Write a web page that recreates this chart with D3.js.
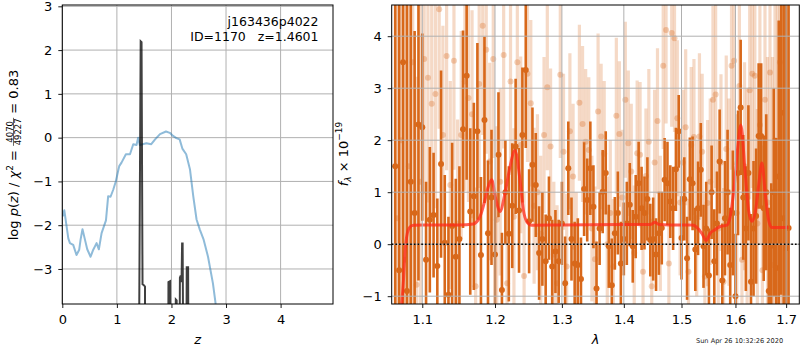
<!DOCTYPE html>
<html>
<head>
<meta charset="utf-8">
<title>redshift fit</title>
<script src="https://d3js.org/d3.v7.min.js"></script>
<style>
	body { margin: 0; background: #fff; }
	text { font-family: "DejaVu Sans", sans-serif; }
</style>
</head>
<body>
<div id="plot"></div>
<script>
// ---- left panel: log p(z) ----
var zTicks = [0, 1, 2, 3, 4]
var pTicks = [-3, -2, -1, 0, 1, 2, 3]

var zChi = [0.006, 0.037, 0.11, 0.14, 0.20, 0.26, 0.31, 0.335, 0.37, 0.415, 0.457, 0.518, 0.567, 0.628, 0.67, 0.72, 0.80, 0.84, 0.884, 0.933, 0.98, 1.043, 1.085, 1.165, 1.24, 1.30, 1.36, 1.39, 1.42, 1.54, 1.63, 1.70, 1.79, 1.90, 1.97, 2.03, 2.09, 2.15, 2.20, 2.27, 2.34, 2.40, 2.46, 2.52, 2.59, 2.67, 2.76, 2.81, 2.86]
var logChi = [-1.80, -1.66, -2.30, -2.41, -2.45, -2.68, -2.56, -2.33, -2.09, -2.33, -2.55, -2.72, -2.56, -2.41, -2.55, -2.18, -1.89, -1.34, -1.35, -1.19, -1.00, -0.65, -0.57, -0.38, -0.38, -0.15, -0.17, 0.00, -0.17, -0.13, -0.15, -0.04, 0.08, 0.14, 0.11, 0.04, -0.01, -0.04, -0.25, -0.38, -0.73, -1.34, -1.87, -2.10, -2.33, -2.72, -3.33, -3.80, -4.2]

var zPz = [1.30, 1.405, 1.436, 1.452, 1.47, 1.495, 1.515, 1.53, 1.93, 1.945, 1.975, 1.99, 2.07, 2.08, 2.095, 2.105, 2.14, 2.155, 2.17, 2.185, 2.195, 2.205, 2.22, 2.27, 2.28, 2.305, 2.32, 2.40]
var logPz = [-12, -5, 2.20, 2.18, -3.35, -3.37, -3.40, -12, -12, -3.30, -3.28, -12, -5, -3.70, -3.72, -5, -8, -3.20, -3.15, -3.30, -2.42, -2.42, -6, -6, -2.96, -2.96, -8, -12]

// ---- right panel: spectrum ----
var lamTicks = [1.1, 1.2, 1.3, 1.4, 1.5, 1.6, 1.7]
var fluxTicks = [-1, 0, 1, 2, 3, 4]

var lamDark = [1.065, 1.070, 1.075, 1.080, 1.085, 1.090, 1.095, 1.100, 1.105, 1.110, 1.115, 1.120, 1.125, 1.130, 1.135, 1.140, 1.145, 1.150, 1.155, 1.160, 1.165, 1.170, 1.175, 1.180, 1.185, 1.190, 1.195, 1.200, 1.205, 1.210, 1.215, 1.220, 1.225, 1.230, 1.235, 1.240, 1.245, 1.250, 1.255, 1.260, 1.265, 1.270, 1.275, 1.280, 1.285, 1.290, 1.295, 1.300, 1.305, 1.310, 1.315, 1.320, 1.325, 1.330, 1.335, 1.340, 1.345, 1.350, 1.355, 1.360, 1.365, 1.370, 1.375, 1.380, 1.385, 1.390, 1.395, 1.400, 1.405, 1.410, 1.415, 1.420, 1.425, 1.430, 1.435, 1.440, 1.445, 1.450, 1.455, 1.460, 1.465, 1.470, 1.475, 1.480, 1.485, 1.490, 1.495, 1.500, 1.505, 1.510, 1.515, 1.520, 1.525, 1.530, 1.535, 1.540, 1.545, 1.550, 1.555, 1.560, 1.565, 1.570, 1.575, 1.580, 1.585, 1.590, 1.595, 1.600, 1.605, 1.610, 1.615, 1.620, 1.625, 1.630, 1.635, 1.640, 1.645, 1.650, 1.655, 1.660, 1.665, 1.670, 1.675, 1.680, 1.685, 1.690, 1.695, 1.700, 1.705]
var fluxDark = [1.5, -0.5, 3.5, -0.9, 1.2, 0.6, 2.3, 2.25, -0.3, 0.47, 0.56, -0.42, 1.54, 0.03, -0.97, 0.35, -0.24, 0.1, 2.21, 3.24, 0.63, 0.92, 2.17, -0.21, 2.39, 0.21, 0.9, -0.2, 1.72, -0.88, 1.0, 0.2, 0.74, 1.88, 0.65, 2.1, 3.35, 0.44, 1.53, 1.14, -0.17, 0.1, -0.33, 0.5, -0.43, -0.14, -0.33, 0.4, -0.75, 1.46, 0.1, -0.37, -0.4, -0.67, 1.06, 0.85, 1.46, 0.72, -0.85, 0.3, 1.01, 1.37, -0.04, -0.79, 0.21, 0.6, -0.37, 0.1, 0.4, 0.76, -0.04, 0.53, 1.17, 0.69, 0.6, 0.87, 0.08, 0.1, -0.2, 0.21, 0.31, 1.24, 1.17, 0.82, 0.69, 1.44, 2.17, 0.12, 0.87, -0.27, 1.25, 1.17, -0.1, 0.69, 1.43, -0.04, 0.3, -0.6, 1.0, -0.33, 0.4, 1.59, -0.7, 0.5, 1.0, -0.4, 0.6, -1.0, 1.37, 2.63, 0.9, 0.3, 1.37, -0.72, 0.3, 0.54, 2.08, 2.08, 0.69, 1.0, -0.9, -0.03, 1.0, -0.46, 1.3, 2.53, 0.5, -0.08, 0.31]
var errDark = [8, 8, 7, 6, 4.5, 3.5, 3.0, 1.8, 1.5, 1.4, 1.2, 1.3, 1.8, 1.3, 1.5, 1.6, 1.5, 1.4, 1.9, 2.0, 1.6, 1.8, 1.7, 1.5, 1.6, 1.4, 1.3, 1.2, 1.2, 1.1, 1.0, 1.3, 1.2, 1.3, 1.2, 1.3, 1.5, 1.0, 1.1, 1.0, 0.9, 0.9, 0.9, 0.8, 0.9, 0.8, 0.8, 0.8, 0.9, 0.9, 0.8, 0.8, 0.9, 0.8, 0.9, 0.8, 0.9, 0.8, 0.9, 0.7, 0.8, 0.8, 0.8, 0.9, 0.7, 0.8, 0.8, 0.7, 0.8, 0.8, 0.7, 0.8, 0.8, 0.8, 0.7, 0.8, 0.7, 0.8, 0.7, 0.8, 0.7, 0.8, 0.8, 0.7, 0.8, 0.8, 0.7, 0.8, 0.8, 0.8, 0.8, 0.9, 0.8, 0.9, 0.9, 0.8, 0.9, 0.9, 0.9, 1.0, 1.0, 1.0, 1.1, 1.1, 1.2, 1.1, 1.2, 1.2, 1.2, 1.3, 1.2, 1.2, 1.3, 1.3, 1.3, 1.3, 1.4, 1.4, 1.4, 1.5, 1.6, 1.2, 2.0, 2.5, 3.0, 3.5, 6, 8, 9]

var lamLight = [1.0675, 1.0725, 1.0775, 1.0825, 1.0875, 1.0925, 1.0975, 1.1025, 1.1075, 1.1125, 1.1175, 1.1225, 1.1275, 1.1325, 1.1375, 1.1425, 1.1475, 1.1525, 1.1575, 1.1625, 1.1675, 1.1725, 1.1775, 1.1825, 1.1875, 1.1925, 1.1975, 1.2025, 1.2075, 1.2125, 1.2175, 1.2225, 1.2275, 1.2325, 1.2375, 1.2425, 1.2475, 1.2525, 1.2575, 1.2625, 1.2675, 1.2725, 1.2775, 1.2825, 1.2875, 1.2925, 1.2975, 1.3025, 1.3075, 1.3125, 1.3175, 1.3225, 1.3275, 1.3325, 1.3375, 1.3425, 1.3475, 1.3525, 1.3575, 1.3625, 1.3675, 1.3725, 1.3775, 1.3825, 1.3875, 1.3925, 1.3975, 1.4025, 1.4075, 1.4125, 1.4175, 1.4225, 1.4275, 1.4325, 1.4375, 1.4425, 1.4475, 1.4525, 1.4575, 1.4625, 1.4675, 1.4725, 1.4775, 1.4825, 1.4875, 1.4925, 1.4975, 1.5025, 1.5075, 1.5125, 1.5175, 1.5225, 1.5275, 1.5325, 1.5375, 1.5425, 1.5475, 1.5525, 1.5575, 1.5625, 1.5675, 1.5725, 1.5775, 1.5825, 1.5875, 1.5925, 1.5975, 1.6025, 1.6075, 1.6125, 1.6175, 1.6225, 1.6275, 1.6325, 1.6375, 1.6425, 1.6475, 1.6525, 1.6575, 1.6625, 1.6675, 1.6725, 1.6775, 1.6825, 1.6875, 1.6925]
var fluxLight = [0.5, 2.0, -0.3, 1.5, 3.5, -0.78, 1.2, 3.56, 3.2, 2.7, 2.89, 4.52, 2.1, 3.62, 1.14, 3.53, 0.4, 2.1, 3.13, 2.81, 2.5, -0.81, 3.08, 4.2, 3.74, 1.59, 3.56, 0.47, 1.2, 3.64, -0.75, 3.13, 0.53, 3.5, 1.91, -0.61, 3.28, 2.71, 0.74, 1.0, 0.2, 2.1, 3.02, 1.88, -0.2, -0.75, 3.26, 1.78, -0.43, 2.17, 1.3, -0.4, 2.72, 2.31, 1.97, 1.81, 0.3, -0.29, 2.55, 2.07, 1.74, 0.0, 0.6, -0.43, 2.47, 2.12, 0.9, 2.78, 1.94, 1.4, -0.17, 1.75, 1.72, -0.53, 1.31, 1.97, -0.81, 1.57, 2.37, 0.4, 3.43, 4.12, -0.37, 4.06, 3.96, 2.42, 0.8, 1.57, 2.25, -0.53, 1.91, 2.06, 0.5, 2.07, 1.78, -0.62, 0.79, 1.2, 2.78, 2.88, 0.3, 1.57, -0.72, 1.83, 1.0, 3.43, 3.53, 0.6, 3.04, -0.3, 1.5, 0.9, 2.96, 3.28, 3.24, 0.4, 2.29, -0.5, 2.78, 0.8, 3.3, -0.4, 2.0, 1.0, 3.5, 0.5]
var errLight = [9, 8, 7, 6, 5, 4, 3.5, 2.6, 2.4, 2.2, 2.2, 2.3, 2.1, 2.2, 2.0, 2.1, 2.0, 2.0, 2.1, 2.0, 2.0, 1.9, 2.0, 2.1, 2.0, 1.9, 1.9, 1.8, 1.8, 1.8, 1.7, 1.8, 1.7, 1.7, 1.7, 1.6, 1.7, 1.6, 1.5, 1.5, 1.5, 1.5, 1.6, 1.5, 1.4, 1.5, 1.6, 1.5, 1.4, 1.5, 1.4, 1.4, 1.5, 1.5, 1.4, 1.4, 1.4, 1.4, 1.5, 1.4, 1.4, 1.3, 1.4, 1.3, 1.5, 1.4, 1.3, 1.5, 1.4, 1.3, 1.3, 1.4, 1.4, 1.3, 1.3, 1.4, 1.3, 1.4, 1.4, 1.3, 1.6, 1.8, 1.4, 1.8, 1.8, 1.5, 1.4, 1.4, 1.5, 1.4, 1.5, 1.5, 1.5, 1.6, 1.5, 1.6, 1.6, 1.6, 1.8, 1.8, 1.7, 1.7, 1.8, 1.8, 1.8, 2.0, 2.0, 1.9, 2.0, 2.0, 2.0, 2.1, 2.1, 2.2, 2.2, 2.2, 2.3, 2.4, 2.6, 2.8, 3.2, 4, 5, 6, 7, 8]

var lamModel = [1.0732, 1.0753, 1.0775, 1.0805, 1.0839, 1.0883, 1.10, 1.15, 1.1693, 1.1786, 1.1857, 1.1904, 1.1952, 1.2014, 1.2072, 1.2144, 1.2217, 1.2290, 1.2364, 1.2414, 1.2463, 1.2538, 1.30, 1.40, 1.445, 1.4532, 1.46, 1.50, 1.5196, 1.5369, 1.5449, 1.5523, 1.5616, 1.5710, 1.5836, 1.5899, 1.5976, 1.6039, 1.6103, 1.6187, 1.6252, 1.6317, 1.6382, 1.6448, 1.6514, 1.6580, 1.6646, 1.6712, 1.705]
var fluxModel = [-1.15, -0.75, -0.17, 0.21, 0.33, 0.365, 0.37, 0.37, 0.39, 0.53, 0.85, 1.11, 1.24, 0.85, 0.63, 0.98, 1.49, 1.80, 1.24, 0.66, 0.44, 0.365, 0.37, 0.38, 0.38, 0.42, 0.38, 0.37, 0.37, 0.21, 0.07, 0.21, 0.28, 0.34, 0.365, 0.53, 1.11, 1.81, 2.29, 1.37, 0.66, 0.44, 0.60, 1.11, 1.56, 0.98, 0.47, 0.32, 0.32]

var fracNum = '4070', fracDen = '49227'
var stamp = 'Sun Apr 26 10:32:26 2020'

// ------------------------------------------------------------------
var svg = d3.select('#plot').append('svg')
				.attr('width', 800)
				.attr('height', 350)

var boxL = {left: 62.3, right: 333, top: 5, bottom: 304}
var boxR = {left: 391.7, right: 799.3, top: 5, bottom: 304}

var defs = svg.append('defs')
function addClip(id, b) {
	defs.append('clipPath').attr('id', id)
		.append('rect')
			.attr('x', b.left).attr('y', b.top)
			.attr('width', b.right - b.left).attr('height', b.bottom - b.top)
}
addClip('clipL', boxL)
addClip('clipR', boxR)

function drawGrid(g, x, y, b, xt, yt) {
	var gg = g.append('g').attr('stroke', '#b0b0b0').attr('stroke-width', 1)
	gg.selectAll('.gx').data(xt).enter().append('line')
		.attr('x1', function(d){return x(d)}).attr('x2', function(d){return x(d)})
		.attr('y1', b.top).attr('y2', b.bottom)
	gg.selectAll('.gy').data(yt).enter().append('line')
		.attr('x1', b.left).attr('x2', b.right)
		.attr('y1', function(d){return y(d)}).attr('y2', function(d){return y(d)})
}

function drawAxes(g, x, y, b, xt, yt, xfmt) {
	var ax = g.append('g')
		.attr('transform', 'translate(0,' + b.bottom + ')')
		.call(d3.axisBottom(x).tickValues(xt).tickSize(4).tickPadding(7).tickFormat(xfmt))
	var ay = g.append('g')
		.attr('transform', 'translate(' + b.left + ',0)')
		.call(d3.axisLeft(y).tickValues(yt).tickSize(4).tickPadding(6).tickFormat(d3.format('d')))
	;[ax, ay].forEach(function(a){
		a.select('.domain').remove()
		a.attr('font-family', null).attr('font-size', 13)
		a.selectAll('line').attr('stroke', '#000').attr('stroke-width', 0.9)
		a.selectAll('text').attr('fill', '#000')
	})
	g.append('rect')
		.attr('x', b.left).attr('y', b.top)
		.attr('width', b.right - b.left).attr('height', b.bottom - b.top)
		.attr('fill', 'none').attr('stroke', '#000').attr('stroke-width', 1)
}

// ---- left panel ----
var xz = d3.scaleLinear().domain([0, 4.96]).range([boxL.left, boxL.right])
var yp = d3.scaleLinear().domain([-3.8, 3.03]).range([boxL.bottom, boxL.top])

var gL = svg.append('g')
drawGrid(gL, xz, yp, boxL, zTicks, pTicks)

var dataL = gL.append('g').attr('clip-path', 'url(#clipL)')
var lineL = d3.line()
	.x(function(d){return xz(d[0])})
	.y(function(d){return yp(d[1])})

dataL.append('path')
	.attr('d', lineL(zChi.map(function(z, i){return [z, logChi[i]]})))
	.attr('fill', 'none').attr('stroke', '#1f77b4').attr('stroke-opacity', 0.5)
	.attr('stroke-width', 2).attr('stroke-linejoin', 'round')

dataL.append('path')
	.attr('d', lineL(zPz.map(function(z, i){return [z, logPz[i]]})))
	.attr('fill', 'none').attr('stroke', '#000').attr('stroke-opacity', 0.75)
	.attr('stroke-width', 2)

drawAxes(gL, xz, yp, boxL, zTicks, pTicks, d3.format('d'))

gL.append('text').attr('x', 318.5).attr('y', 26).attr('text-anchor', 'end')
	.attr('font-size', 12.5).text('j163436p4022')
gL.append('text').attr('x', 318.5).attr('y', 41).attr('text-anchor', 'end')
	.attr('font-size', 12.5).style('white-space', 'pre').text('ID=1170   z=1.4601')

gL.append('text').attr('x', (boxL.left + boxL.right) / 2).attr('y', 344)
	.attr('text-anchor', 'middle').attr('font-size', 13).attr('font-style', 'italic').text('z')

// y label with a stacked fraction
var yl = gL.append('g')
var t1 = yl.append('text').attr('font-size', 13)
t1.append('tspan').text('log ')
t1.append('tspan').attr('font-style', 'italic').text('p')
t1.append('tspan').text('(')
t1.append('tspan').attr('font-style', 'italic').text('z')
t1.append('tspan').text(') / ')
t1.append('tspan').attr('font-style', 'italic').text('χ')
t1.append('tspan').attr('font-size', 9).attr('dy', -5).text('2')
t1.append('tspan').attr('dy', 5).style('white-space', 'pre').text(' = ')
var w1 = t1.node().getComputedTextLength()
var nn = yl.append('text').attr('font-size', 8.5).attr('text-anchor', 'middle').attr('y', -5.3).text(fracNum)
var dd = yl.append('text').attr('font-size', 8.5).attr('text-anchor', 'middle').attr('y', 3.2).text(fracDen)
var fw = Math.max(nn.node().getComputedTextLength(), dd.node().getComputedTextLength()) + 1
nn.attr('x', w1 + fw / 2)
dd.attr('x', w1 + fw / 2)
yl.append('line').attr('x1', w1).attr('x2', w1 + fw).attr('y1', -4.3).attr('y2', -4.3)
	.attr('stroke', '#000').attr('stroke-width', 0.6)
var t2 = yl.append('text').attr('font-size', 13).attr('x', w1 + fw).style('white-space', 'pre').text(' = 0.83')
var wTot = w1 + fw + t2.node().getComputedTextLength()
yl.attr('transform', 'translate(17.8,' + (155 + wTot / 2) + ') rotate(-90)')

// ---- right panel ----
var xl = d3.scaleLog().domain([1.0605, 1.727]).range([boxR.left, boxR.right])
var yf = d3.scaleLinear().domain([-1.15, 4.6]).range([boxR.bottom, boxR.top])

var gR = svg.append('g')
var dataR = gR.append('g').attr('clip-path', 'url(#clipR)')

var orange = '#d8681a'
var light = lamLight.map(function(l, i){return {l: l, f: fluxLight[i], e: errLight[i]}})
var dark = lamDark.map(function(l, i){return {l: l, f: fluxDark[i], e: errDark[i]}})

dataR.append('g').selectAll('line').data(light).enter().append('line')
	.attr('x1', function(d){return xl(d.l)}).attr('x2', function(d){return xl(d.l)})
	.attr('y1', function(d){return yf(d.f - d.e)}).attr('y2', function(d){return yf(d.f + d.e)})
	.attr('stroke', orange).attr('stroke-opacity', 0.25).attr('stroke-width', 3.2)
dataR.append('g').selectAll('circle').data(light).enter().append('circle')
	.attr('cx', function(d){return xl(d.l)}).attr('cy', function(d){return yf(d.f)})
	.attr('r', 3).attr('fill', orange).attr('fill-opacity', 0.3)

dataR.append('g').selectAll('line').data(dark).enter().append('line')
	.attr('x1', function(d){return xl(d.l)}).attr('x2', function(d){return xl(d.l)})
	.attr('y1', function(d){return yf(d.f - d.e)}).attr('y2', function(d){return yf(d.f + d.e)})
	.attr('stroke', orange).attr('stroke-width', 2.6)
dataR.append('g').selectAll('circle').data(dark).enter().append('circle')
	.attr('cx', function(d){return xl(d.l)}).attr('cy', function(d){return yf(d.f)})
	.attr('r', 3).attr('fill', orange)

dataR.append('path')
	.attr('d', d3.line().curve(d3.curveMonotoneX)
		.x(function(d){return xl(d[0])}).y(function(d){return yf(d[1])})
		(lamModel.map(function(l, i){return [l, fluxModel[i]]})))
	.attr('fill', 'none').attr('stroke', '#ff2a1a').attr('stroke-opacity', 0.75)
	.attr('stroke-width', 3).attr('stroke-linejoin', 'round')

drawGrid(gR, xl, yf, boxR, lamTicks, fluxTicks)

gR.append('line')
	.attr('x1', boxR.left).attr('x2', boxR.right)
	.attr('y1', yf(0)).attr('y2', yf(0))
	.attr('stroke', '#000').attr('stroke-width', 1.6).attr('stroke-dasharray', '1.6,2.1')

drawAxes(gR, xl, yf, boxR, lamTicks, fluxTicks, d3.format('.1f'))

gR.append('text').attr('x', (boxR.left + boxR.right) / 2).attr('y', 344)
	.attr('text-anchor', 'middle').attr('font-size', 13).attr('font-style', 'italic').text('λ')

var yr = gR.append('text').attr('font-size', 13).attr('text-anchor', 'middle')
	.attr('transform', 'translate(347.5,154) rotate(-90)')
yr.append('tspan').attr('font-style', 'italic').text('f')
yr.append('tspan').attr('font-size', 9).attr('font-style', 'italic').attr('dy', 3).text('λ')
yr.append('tspan').attr('dy', -3).style('white-space', 'pre').text(' × 10')
yr.append('tspan').attr('font-size', 9).attr('dy', -5.5).text('−19')

svg.append('text').attr('x', 696).attr('y', 342.5).attr('font-size', 6.6)
	.attr('fill', '#222').text(stamp)
</script>
</body>
</html>
